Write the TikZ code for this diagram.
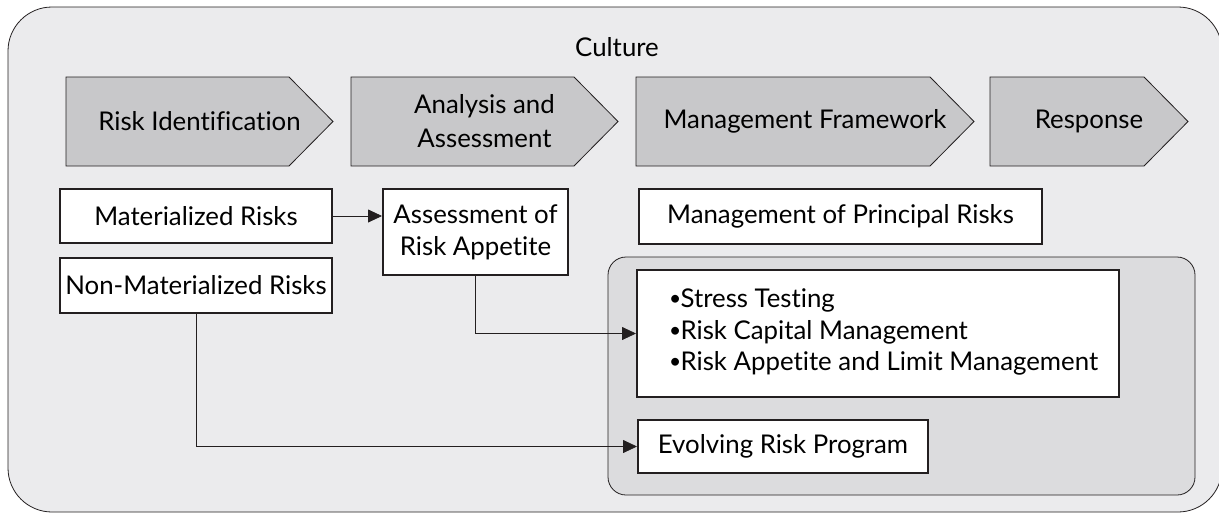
\documentclass[tikz,border=0pt]{standalone}
\usepackage{fontspec}
\setmainfont{Lato}[Ligatures=NoCommon]
\usepackage{tikz}
\usetikzlibrary{backgrounds,calc,arrows.meta}
\definecolor{culturegray}{RGB}{235,235,237}
\definecolor{stagegray}{RGB}{200,200,202}
\definecolor{toolgray}{RGB}{220,220,222}
\definecolor{linegray}{RGB}{35,31,32}
\newcommand{\toolbullet}{\raisebox{0.9pt}{\fontsize{10.5pt}{10.5pt}\selectfont •}\kern-0.3pt}

\begin{document}
\begin{tikzpicture}[x=0.5pt,y=-0.5pt,line width=1pt,
  font=\fontsize{12.9pt}{16pt}\selectfont]
  % `stage' holds the text of a process step, `chevron' is its outline.
  % `item' is used for the white boxes, `toolset' for the grey panel.
  % `culturebox' is used for the large background box.
  \tikzstyle{stage} = [inner sep=0pt,minimum height=43.5pt,align=center,
    font=\fontsize{12.9pt}{17pt}\selectfont]
  \tikzstyle{chevron} = [draw=linegray,fill=stagegray]
  \tikzstyle{item} = [draw=linegray,fill=white,inner sep=0pt,align=center]
  \tikzstyle{toolset} = [draw=linegray,fill=toolgray,rounded corners=9pt]
  \tikzstyle{culturebox} = [draw=linegray,fill=culturegray,rounded corners=22pt]
  \tikzstyle{link} = [draw=linegray,-{Triangle[length=7pt,width=6.5pt]}]
  %
  \useasboundingbox (0,0) rectangle (1219,514);
  \node (culture) at (617,47) {Culture};
  % Process steps.
  \node[stage,minimum width=132.5pt] (ident) at (199.5,121.5) {Risk Identification};
  \node[stage,minimum width=132.5pt] (analysis) at (484.5,121.5) {Analysis and\\Assessment};
  \node[stage,minimum width=168pt] (framework) at (805,121.5) {Management Framework};
  \node[stage,minimum width=98pt] (response) at (1089,121.5) {Response};
  % Boxes below the steps.
  \node[item,minimum width=136pt,minimum height=27pt] (mat) at (196,216) {Materialized Risks};
  \node[item,minimum width=136pt,minimum height=27.5pt] (nonmat) at (196,285.5) {Non-Materialized Risks};
  \node[item,minimum width=92.5pt,minimum height=43pt] (appetite) at (475.5,232) {Assessment of\\Risk Appetite};
  \node[item,minimum width=201.5pt,minimum height=27.5pt] (principal) at (840.5,216.5) {Management of Principal Risks};
  \node[item,minimum width=241pt,minimum height=63.5pt] (tools) at (878,333.5) {};
  \node[anchor=west,align=left,inner sep=0pt,font=\fontsize{12.9pt}{15.75pt}\selectfont] (toollist) at (668,332)
    {\toolbullet Stress Testing\\\toolbullet Risk Capital Management\\\toolbullet Risk Appetite and Limit Management};
  \node[item,minimum width=145pt,minimum height=26.5pt] (evolve) at (783,446.5) {Evolving Risk Program};
  \begin{pgfonlayer}{background}
      % Draw background boxes.
      \draw[culturebox] (8,7) rectangle (1222,512);
      \draw[toolset] (608,257) rectangle (1195,495);
      % Draw step outlines.
      \draw[chevron] (ident.north west) -- ($(ident.north east)+(-44,0)$) -- (ident.east)
        -- ($(ident.south east)+(-44,0)$) -- (ident.south west) -- cycle;
      \draw[chevron] (analysis.north west) -- ($(analysis.north east)+(-44,0)$) -- (analysis.east)
        -- ($(analysis.south east)+(-44,0)$) -- (analysis.south west) -- cycle;
      \draw[chevron] (framework.north west) -- ($(framework.north east)+(-44,0)$) -- (framework.east)
        -- ($(framework.south east)+(-44,0)$) -- (framework.south west) -- cycle;
      \draw[chevron] (response.north west) -- ($(response.north east)+(-44,0)$) -- (response.east)
        -- ($(response.south east)+(-44,0)$) -- (response.south west) -- cycle;
  \end{pgfonlayer}
  % Draw lines.
  \draw[link] (mat.east) -- (mat.east -| appetite.west);
  \draw[link] (appetite.south) |- (tools.west);
  \draw[link] (nonmat.south) |- (evolve.west);
  %
\end{tikzpicture}
\end{document}
